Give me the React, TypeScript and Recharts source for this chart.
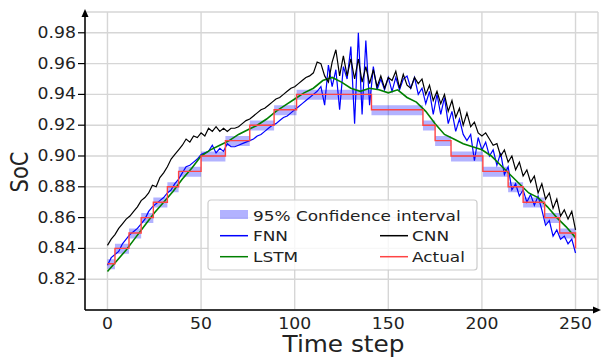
import { Area, CartesianGrid, ComposedChart, Legend, Line, ReferenceDot, XAxis, YAxis } from "recharts";

// Actual SoC: level held from each start step until the next one
const actualStarts = [0, 4, 11.5, 18, 24.5, 32, 38, 50, 63, 76, 89, 101, 141, 168.5, 175, 183.5, 200.5, 214, 222, 233.5, 241.5, 250];
const actualLevels = [0.83, 0.84, 0.85, 0.86, 0.87, 0.88, 0.89, 0.9, 0.91, 0.92, 0.93, 0.94, 0.93, 0.92, 0.91, 0.9, 0.89, 0.88, 0.87, 0.86, 0.85, 0.84];
const ciLower = [0.8265, 0.8365, 0.8465, 0.8565, 0.8665, 0.8765, 0.8865, 0.8965, 0.9065, 0.9165, 0.9265, 0.9365, 0.9265, 0.9165, 0.9065, 0.8965, 0.8865, 0.8765, 0.8665, 0.8565, 0.8465, 0.8365];
const ciUpper = [0.833, 0.843, 0.853, 0.863, 0.873, 0.883, 0.893, 0.903, 0.913, 0.923, 0.933, 0.943, 0.933, 0.923, 0.913, 0.903, 0.893, 0.883, 0.873, 0.863, 0.853, 0.843];

// FNN and CNN predictions, every 2nd time step (0, 2, ..., 250)
const fnnValues = [
  0.829, 0.834, 0.836, 0.838, 0.843, 0.846, 0.849, 0.851, 0.853, 0.856,
  0.859, 0.864, 0.867, 0.869, 0.871, 0.873, 0.876, 0.878, 0.882, 0.885,
  0.889, 0.893, 0.894, 0.896, 0.898, 0.901, 0.902, 0.903, 0.907, 0.902,
  0.905, 0.903, 0.908, 0.906, 0.906, 0.907, 0.908, 0.909, 0.91, 0.911,
  0.913, 0.914, 0.916, 0.918, 0.92, 0.921, 0.923, 0.925, 0.926, 0.928,
  0.93, 0.932, 0.934, 0.936, 0.938, 0.94, 0.942, 0.945, 0.933, 0.959,
  0.945, 0.956, 0.93, 0.958, 0.95, 0.971, 0.921, 0.98, 0.927, 0.975,
  0.933, 0.958, 0.943, 0.95, 0.943, 0.951, 0.942, 0.951, 0.943, 0.95,
  0.952, 0.944, 0.951, 0.94, 0.944, 0.934, 0.942, 0.927, 0.94, 0.927,
  0.938, 0.921, 0.929, 0.916, 0.924, 0.914, 0.91, 0.914, 0.897, 0.912,
  0.904, 0.909, 0.9, 0.904, 0.894, 0.902, 0.888, 0.893, 0.878, 0.882,
  0.874, 0.878, 0.87, 0.875, 0.868, 0.874, 0.865, 0.855, 0.858, 0.848,
  0.852, 0.846, 0.848, 0.843, 0.846, 0.837,
];
const cnnValues = [
  0.842, 0.846, 0.849, 0.853, 0.856, 0.859, 0.861, 0.864, 0.867, 0.871,
  0.873, 0.876, 0.881, 0.88, 0.886, 0.889, 0.893, 0.898, 0.901, 0.904,
  0.907, 0.911, 0.909, 0.913, 0.912, 0.915, 0.913, 0.918, 0.916, 0.919,
  0.916, 0.918, 0.916, 0.918, 0.918, 0.919, 0.921, 0.923, 0.924, 0.926,
  0.928, 0.93, 0.931, 0.933, 0.935, 0.937, 0.938, 0.94, 0.942, 0.944,
  0.945, 0.947, 0.949, 0.951, 0.952, 0.954, 0.961, 0.96, 0.952, 0.948,
  0.961, 0.969, 0.952, 0.965, 0.952, 0.963, 0.95, 0.963, 0.948, 0.958,
  0.947, 0.956, 0.945, 0.952, 0.944, 0.951, 0.949, 0.955, 0.944, 0.953,
  0.946, 0.944, 0.951, 0.947, 0.95, 0.94, 0.946, 0.936, 0.942, 0.934,
  0.94, 0.929, 0.936, 0.925, 0.931, 0.92, 0.928, 0.919, 0.922, 0.915,
  0.913, 0.915, 0.911, 0.907, 0.908, 0.9, 0.904, 0.896, 0.9, 0.891,
  0.896, 0.887, 0.891, 0.883, 0.887, 0.876, 0.882, 0.872, 0.876, 0.866,
  0.872, 0.861, 0.865, 0.859, 0.864, 0.852,
];

// LSTM predictions, every 5th time step (0, 5, ..., 250)
const lstmValues = [
  0.825, 0.832, 0.839, 0.847, 0.855, 0.863, 0.87, 0.877, 0.885, 0.892,
  0.9, 0.904, 0.907, 0.91, 0.914, 0.917, 0.92, 0.924, 0.929, 0.933,
  0.937, 0.941, 0.944, 0.949, 0.951, 0.948, 0.944, 0.942, 0.944, 0.943,
  0.941, 0.943, 0.938, 0.935, 0.929, 0.921, 0.914, 0.911, 0.908, 0.906,
  0.904, 0.9, 0.894, 0.888, 0.882, 0.876, 0.873, 0.867, 0.86, 0.854,
  0.847,
];

const xTicks = [0, 50, 100, 150, 200, 250];
const yTicks = [0.82, 0.84, 0.86, 0.88, 0.9, 0.92, 0.94, 0.96, 0.98];

const stepData = actualStarts.map((t, i) => ({ t, actual: actualLevels[i], ci: [ciLower[i], ciUpper[i]] }));
const noisyData = fnnValues.map((fnn, i) => ({ t: i * 2, fnn, cnn: cnnValues[i] }));
const lstmData = lstmValues.map((lstm, i) => ({ t: i * 5, lstm }));

const FONT = "'DejaVu Sans', Verdana, sans-serif";
const TEXT = "#222";
const STRETCH = 1.15;

function YTick({ x, y, payload }: any) {
  return (
    <text transform={`translate(${x},${y + 5}) scale(${STRETCH},1)`} textAnchor="end" fontSize={15} fontFamily={FONT} fill={TEXT}>
      {Number(payload.value).toFixed(2)}
    </text>
  );
}

function XTick({ x, y, payload }: any) {
  return (
    <text transform={`translate(${x},${y + 11}) scale(${STRETCH},1)`} textAnchor="middle" fontSize={15} fontFamily={FONT} fill={TEXT}>
      {payload.value}
    </text>
  );
}

function XTitle({ viewBox }: any) {
  const cx = viewBox.x + viewBox.width / 2 + 2;
  return (
    <text transform={`translate(${cx},${viewBox.y + 42}) scale(1.1,1)`} textAnchor="middle" fontSize={22.5} fontFamily={FONT} fill={TEXT}>
      Time step
    </text>
  );
}

function YTitle({ viewBox }: any) {
  const cy = viewBox.y + viewBox.height / 2 + 11;
  return (
    <text transform={`translate(28,${cy}) scale(${STRETCH},1) rotate(-90)`} textAnchor="middle" fontSize={21} fontFamily={FONT} fill={TEXT}>
      SoC
    </text>
  );
}

const upArrow = ({ cx, cy }: any) => <path d={`M${cx},${cy - 3} L${cx - 3.5},${cy + 5} L${cx + 3.5},${cy + 5} Z`} fill="#000" />;
const rightArrow = ({ cx, cy }: any) => <path d={`M${cx + 3},${cy} L${cx - 5},${cy - 3.5} L${cx - 5},${cy + 3.5} Z`} fill="#000" />;

function LegendLabel({ x, y, children }: any) {
  return (
    <text transform={`translate(${x},${y}) scale(${STRETCH},1)`} fontSize={14.7} fontFamily={FONT} fill={TEXT}>
      {children}
    </text>
  );
}

function LegendBox() {
  return (
    <svg width={272} height={74}>
      <rect x={1} y={1} width={269} height={70} rx={3} fill="#fff" fillOpacity={0.8} stroke="#cccccc" strokeWidth={1.2} />
      <rect x={13} y={11} width={28} height={9} fill="#0000ff" fillOpacity={0.3} />
      <LegendLabel x={46} y={21.5}>95% Confidence interval</LegendLabel>
      <line x1={13} x2={41} y1={36.7} y2={36.7} stroke="#0000ff" strokeWidth={1.5} />
      <LegendLabel x={46} y={42}>FNN</LegendLabel>
      <line x1={173} x2={201} y1={36.7} y2={36.7} stroke="#000" strokeWidth={1.5} />
      <LegendLabel x={205} y={42}>CNN</LegendLabel>
      <line x1={13} x2={41} y1={57.7} y2={57.7} stroke="#008000" strokeWidth={1.5} />
      <LegendLabel x={46} y={63}>LSTM</LegendLabel>
      <line x1={173} x2={201} y1={57.7} y2={57.7} stroke="#ff4444" strokeWidth={1.5} />
      <LegendLabel x={205} y={63}>Actual</LegendLabel>
    </svg>
  );
}

export default function App() {
  return (
    <div style={{ position: "absolute", left: 0, top: 0, background: "#fff" }}>
      <ComposedChart width={601} height={358} data={noisyData} margin={{ top: 12, right: 3, bottom: 0, left: 25 }}>
        <CartesianGrid stroke="#d6d6d6" strokeWidth={1.4} />
        <XAxis
          type="number"
          dataKey="t"
          domain={[-12, 262]}
          ticks={xTicks}
          height={48}
          tickSize={6}
          tickLine={false}
          axisLine={{ stroke: "#000", strokeWidth: 1.5 }}
          tick={<XTick />}
          label={<XTitle />}
          allowDataOverflow
        />
        <YAxis
          type="number"
          domain={[0.8, 0.9935]}
          ticks={yTicks}
          width={60}
          tickSize={7}
          axisLine={{ stroke: "#000", strokeWidth: 1.5 }}
          tickLine={{ stroke: "#000", strokeWidth: 1.2 }}
          tick={<YTick />}
          label={<YTitle />}
          allowDataOverflow
        />
        <Area data={stepData} dataKey="ci" type="stepAfter" stroke="none" fill="#0000ff" fillOpacity={0.3} isAnimationActive={false} />
        <Line dataKey="fnn" type="linear" stroke="#0000ff" strokeWidth={1.2} dot={false} isAnimationActive={false} />
        <Line data={lstmData} dataKey="lstm" type="linear" stroke="#008000" strokeWidth={1.6} dot={false} isAnimationActive={false} />
        <Line dataKey="cnn" type="linear" stroke="#000" strokeWidth={1.2} dot={false} isAnimationActive={false} />
        <Line data={stepData} dataKey="actual" type="stepAfter" stroke="#ff4444" strokeWidth={1.4} dot={false} isAnimationActive={false} />
        <ReferenceDot x={-12} y={0.9935} r={0} shape={upArrow} ifOverflow="visible" />
        <ReferenceDot x={262} y={0.8} r={0} shape={rightArrow} ifOverflow="visible" />
        <Legend
          layout="horizontal"
          verticalAlign="middle"
          align="center"
          content={<LegendBox />}
          wrapperStyle={{ position: "absolute", left: 207, top: 199, width: 272, height: 74 }}
        />
      </ComposedChart>
    </div>
  );
}
